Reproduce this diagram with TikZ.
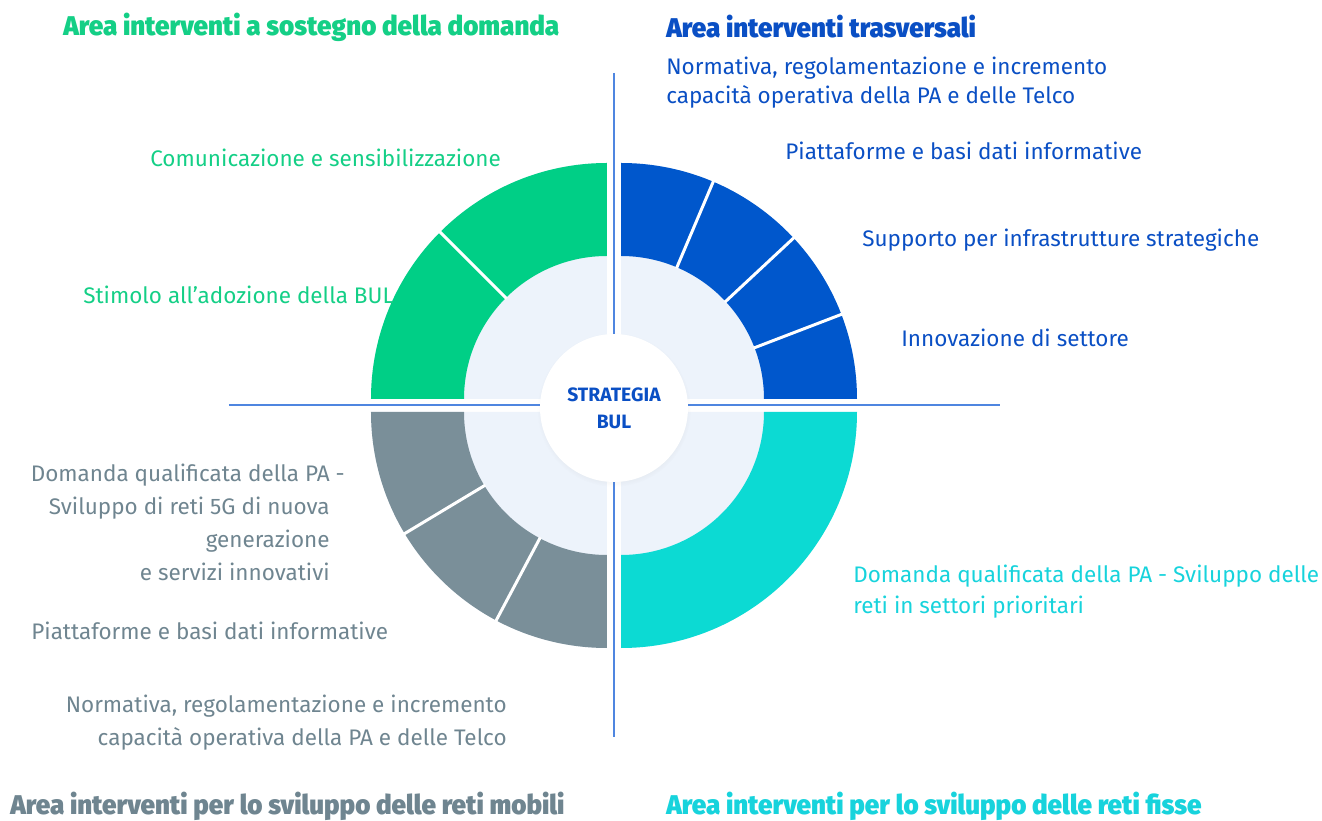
\documentclass[tikz,border=0pt]{standalone}
\usepackage{fontspec}
\setmainfont{Fira Sans}
\newfontfamily\heavyfont{Fira Sans}[UprightFont=* Black, FakeStretch=0.96]
\usepackage{xcolor}
\usepackage{tikz}
\usetikzlibrary{shadows,positioning}
\definecolor{bulgreen}{HTML}{00CF86}
\definecolor{bulblue}{HTML}{0057CC}
\definecolor{bulgrey}{HTML}{7A8F99}
\definecolor{bulteal}{HTML}{0CDAD3}
\definecolor{bullight}{HTML}{EDF3FB}
\definecolor{bulline}{HTML}{4F86E0}
\definecolor{txtblue}{HTML}{0A4FC4}
\definecolor{txtgrey}{HTML}{6F8590}
\definecolor{txtgreen}{HTML}{14CF86}
\definecolor{txtteal}{HTML}{17D3DC}
\tikzset{
  lbl_t/.style = {font=\fontsize{12.8}{16.4}\selectfont, inner sep=0pt},
  area_t/.style = {font=\heavyfont\fontsize{15.4}{18}\selectfont, inner sep=0pt, anchor=west},
  sep_l/.style = {draw=white, line width=1.7pt},
  axis_l/.style = {draw=bulline, line width=1.1pt}
}

\begin{document}
\begin{tikzpicture}[x=0.02cm,y=0.02cm]
	\useasboundingbox (-614,-416) rectangle (708,405);
	% light quadrants
	\foreach \q/\sx/\sy in {0/7/6, 90/-7/6, 180/-7/-7, 270/7/-7}
		\fill[bullight] (\sx,\sy) -- ++(\q:236) arc[start angle=\q, end angle=\q+90, radius=236] -- cycle;
	% coloured rings
	\foreach \q/\sx/\sy/\col in {0/7/6/bulblue, 90/-7/6/bulgreen, 180/-7/-7/bulgrey, 270/7/-7/bulteal}
		\fill[\col] (\sx,\sy) ++(\q:143) arc[start angle=\q, end angle=\q+90, radius=143]
			-- ++(\q+90:93) arc[start angle=\q+90, end angle=\q, radius=236] -- cycle;
	% separators
	\foreach \a in {21,43,67}
		\draw[sep_l] (7,6) ++(\a:142) -- ++(\a:95);
	\draw[sep_l] (-7,6) ++(135:142) -- ++(135:95);
	\foreach \a in {211,242}
		\draw[sep_l] (-7,-7) ++(\a:142) -- ++(\a:95);
	% axes
	\coordinate (ax_n) at (0,332);
	\coordinate (ax_s) at (0,-332);
	\coordinate (ax_w) at (-385,0);
	\coordinate (ax_e) at (386,0);
	\draw[axis_l] (ax_n) -- (ax_s);
	\draw[axis_l] (ax_w) -- (ax_e);
	% centre
	\node (core) [circle, fill=white, minimum size=2.96cm, align=center, text=txtblue,
		font=\bfseries\fontsize{11}{15.3}\selectfont,
		circular drop shadow={shadow xshift=0pt, shadow yshift=-1pt, shadow scale=1.04, opacity=0.12}]
		at (0,-3) {STRATEGIA\\BUL};

	% area titles
	\node (t_dom) [area_t, text=txtgreen] at (-551,378) {Area interventi a sostegno della domanda};
	\node (t_tra) [area_t, text=txtblue] at (52,378) {Area interventi trasversali};
	\node (t_mob) [area_t, text=txtgrey] at (-604,-401) {Area interventi per lo sviluppo delle reti mobili};
	\node (t_fis) [area_t, text=txtteal] at (52,-401) {Area interventi per lo sviluppo delle reti fisse};

	% labels, blue
	\node (l_norm) [lbl_t, text=txtblue, anchor=west, align=left] at (52,322.5)
		{Normativa, regolamentazione e incremento\\capacità operativa della PA e delle Telco};
	\node (l_piat) [lbl_t, text=txtblue, anchor=west] at (171,254) {Piattaforme e basi dati informative};
	\node (l_supp) [lbl_t, text=txtblue, anchor=west] at (248,165) {Supporto per infrastrutture strategiche};
	\node (l_inno) [lbl_t, text=txtblue, anchor=west] at (287,67) {Innovazione di settore};
	% labels, green
	\node (l_comm) [lbl_t, text=txtgreen, anchor=west] at (-464,247) {Comunicazione e sensibilizzazione};
	\node (l_stim) [lbl_t, text=txtgreen, anchor=west] at (-531,110) {Stimolo all'adozione della BUL};
	% labels, grey
	\node (l_dq5g) [lbl_t, text=txtgrey, anchor=east, align=right,
		font=\fontsize{12.8}{18.8}\selectfont] at (-284,-117.5)
		{Domanda qualificata della PA\rlap{ -}\\Sviluppo di reti 5G di nuova\\generazione\\e servizi innovativi};
	\node (l_piag) [lbl_t, text=txtgrey, anchor=west] at (-583,-226) {Piattaforme e basi dati informative};
	\node (l_nrmg) [lbl_t, text=txtgrey, anchor=east, align=right,
		font=\fontsize{12.8}{18.6}\selectfont] at (-107,-317.5)
		{Normativa, regolamentazione e incremento\\capacità operativa della PA e delle Telco};
	% labels, teal
	\node (l_dqfs) [lbl_t, text=txtteal, anchor=west, align=left,
		font=\fontsize{12.8}{17.6}\selectfont] at (239,-186.5)
		{Domanda qualificata della PA - Sviluppo delle\\reti in settori prioritari};
\end{tikzpicture}
\end{document}
